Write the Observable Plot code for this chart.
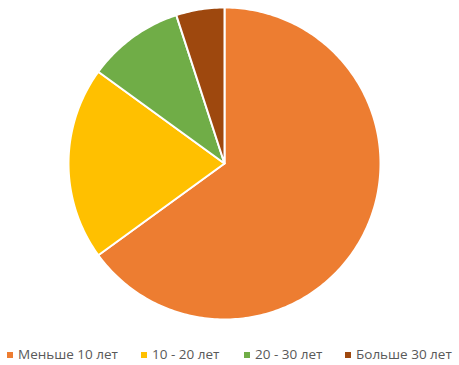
<!DOCTYPE html>
<html><head><meta charset="utf-8">
<script src="https://cdn.jsdelivr.net/npm/d3@7"></script>
<script src="https://cdn.jsdelivr.net/npm/@observablehq/plot@0.6"></script>
<style>
body{margin:0;background:#fff;font-family:"Open Sans",sans-serif;}
#legend{position:relative;height:30px;}
.item{position:absolute;top:11px;font-size:13.5px;color:#595959;white-space:nowrap;line-height:16px;}
.sw{display:inline-block;width:6px;height:6px;margin-right:5px;vertical-align:1px;}
</style></head><body>
<div id="chart"></div>
<div id="legend"></div>
<script>
const categories = ["Меньше 10 лет", "10 - 20 лет", "20 - 30 лет", "Больше 30 лет"];
const values = [65, 20, 10, 5];
const colors = ["#ED7D31", "#FFC000", "#70AD47", "#9E480E"];
const legendLeft = [7, 141, 244, 345];

const arcs = d3.pie().sort(null).value(d => d)(values);
const pts = [];
arcs.forEach((a, i) => {
  const n = Math.max(4, Math.ceil((a.endAngle - a.startAngle) * 60));
  pts.push({cat: categories[i], x: 0, y: 0});
  for (let k = 0; k <= n; k++) {
    const t = a.startAngle + (a.endAngle - a.startAngle) * k / n;
    pts.push({cat: categories[i], x: Math.sin(t), y: Math.cos(t)});
  }
  pts.push({cat: categories[i], x: 0, y: 0});
});
const cx = 224, cy = 163, R = 156;
const plot = Plot.plot({
  width: 459, height: 335, margin: 0,
  x: {domain: [-1, 1], range: [cx - R, cx + R], axis: null},
  y: {domain: [-1, 1], range: [cy + R, cy - R], axis: null},
  color: {domain: categories, range: colors},
  marks: [
    Plot.line(pts, {x: "x", y: "y", z: "cat", fill: "cat", stroke: "white", strokeWidth: 2, strokeLinejoin: "round", curve: "linear"})
  ]
});
document.getElementById("chart").appendChild(plot);
const lg = document.getElementById("legend");
categories.forEach((c, i) => {
  const d = document.createElement("div");
  d.className = "item";
  d.style.left = legendLeft[i] + "px";
  d.innerHTML = `<span class="sw" style="background:${colors[i]}"></span>${c}`;
  lg.appendChild(d);
});
</script>
</body></html>
